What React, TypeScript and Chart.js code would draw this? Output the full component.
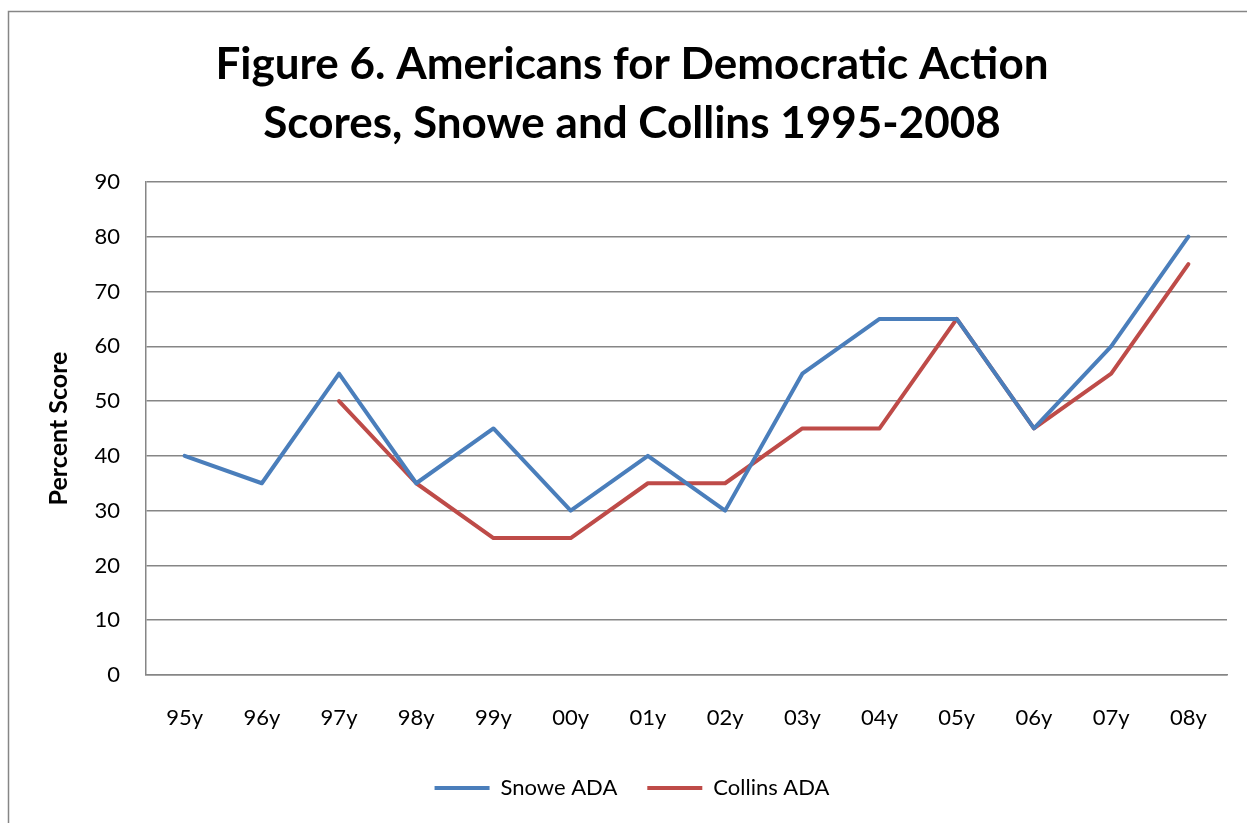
import React, { useEffect, useRef } from "react";
import { Chart, registerables } from "chart.js";

Chart.register(...registerables);

const categories = ["95y", "96y", "97y", "98y", "99y", "00y", "01y", "02y", "03y", "04y", "05y", "06y", "07y", "08y"];
const snoweADA = [40, 35, 55, 35, 45, 30, 40, 30, 55, 65, 65, 45, 60, 80];
const collinsADA = [null, null, 50, 35, 25, 25, 35, 35, 45, 45, 65, 45, 55, 75];
const titleLines = ["Figure 6. Americans for Democratic Action", "Scores, Snowe and Collins 1995-2008"];
const yAxisTitle = "Percent Score";

const FONT = "Lato, 'Open Sans', sans-serif";
const GRID = "#868686";

const borderPlugin = {
  id: "outerBorder",
  beforeDraw(chart: any) {
    const ctx = chart.ctx;
    ctx.save();
    ctx.fillStyle = "#ffffff";
    ctx.fillRect(0, 0, chart.width, chart.height);
    ctx.strokeStyle = GRID;
    ctx.lineWidth = 1.5;
    ctx.beginPath();
    ctx.moveTo(8.5, chart.height + 5);
    ctx.lineTo(8.5, 11.5);
    ctx.lineTo(chart.width + 5, 11.5);
    ctx.stroke();
    ctx.restore();
  },
};

export default function App() {
  const ref = useRef<HTMLCanvasElement | null>(null);
  useEffect(() => {
    if (!ref.current) return;
    const chart = new Chart(ref.current, {
      type: "line",
      data: {
        labels: categories,
        datasets: [
          {
            label: "Snowe ADA",
            data: snoweADA,
            borderColor: "#4A7EBB",
            backgroundColor: "#4A7EBB",
            borderWidth: 4,
            pointRadius: 0,
            tension: 0,
            borderCapStyle: "round",
            borderJoinStyle: "round",
          },
          {
            label: "Collins ADA",
            data: collinsADA,
            borderColor: "#BE4B48",
            backgroundColor: "#BE4B48",
            borderWidth: 4,
            pointRadius: 0,
            tension: 0,
            borderCapStyle: "round",
            borderJoinStyle: "round",
          },
        ],
      },
      options: {
        responsive: false,
        animation: false,
        layout: { padding: { left: 37, right: 20, top: 0, bottom: 14 } },
        plugins: {
          tooltip: { enabled: false },
          title: {
            display: true,
            text: titleLines,
            color: "#000",
            font: { family: FONT, size: 44, weight: "bold", lineHeight: 1.34 },
            padding: { top: 35.5, bottom: 28.5 },
          },
          legend: {
            position: "bottom",
            labels: {
              usePointStyle: true,
              pointStyle: "line",
              pointStyleWidth: 55,
              color: "#000",
              font: { family: FONT, size: 22 },
              padding: 30,
            },
          },
        },
        scales: {
          x: {
            offset: true,
            grid: { display: false, drawTicks: false },
            border: { display: true, color: GRID, width: 1.5 },
            ticks: { color: "#000", font: { family: FONT, size: 22 }, padding: 30, maxRotation: 0 },
            afterFit: (s: any) => {
              s.height = 72;
            },
          },
          y: {
            min: 0,
            max: 90,
            ticks: { stepSize: 10, color: "#000", font: { family: FONT, size: 22 }, padding: 26 },
            grid: { color: GRID, lineWidth: 1.5, drawTicks: false },
            border: { display: true, color: GRID, width: 1.5 },
            title: {
              display: true,
              text: yAxisTitle,
              color: "#000",
              font: { family: FONT, size: 25, weight: "bold" },
              padding: { top: 6.5, bottom: 0 },
            },
            afterFit: (s: any) => {
              s.width = 109;
            },
          },
        },
      },
      plugins: [borderPlugin],
    });
    return () => chart.destroy();
  }, []);
  return (
    <div style={{ position: "absolute", left: 0, top: 0, width: 1247, height: 823 }}>
      <canvas ref={ref} width={1247} height={823} />
    </div>
  );
}
